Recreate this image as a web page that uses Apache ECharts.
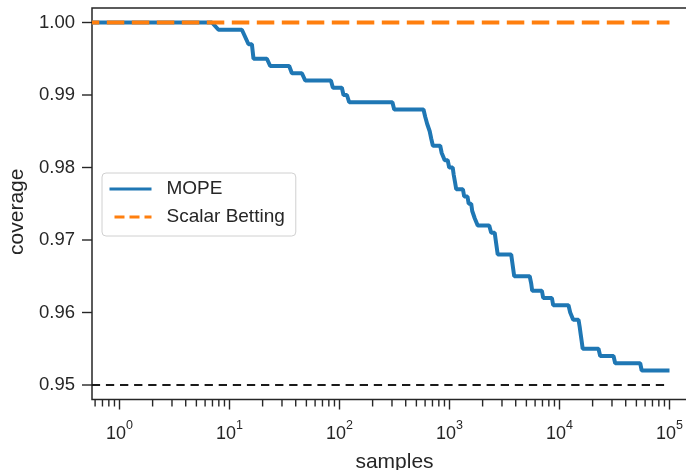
<!DOCTYPE html>
<html>
<head>
<meta charset="utf-8">
<script src="https://cdn.jsdelivr.net/npm/echarts@6/dist/echarts.min.js"></script>
<style>html,body{margin:0;padding:0;background:#fff}#c{width:686px;height:470px}</style>
</head>
<body>
<div id="c"></div>
<script>
// ---- data ----
var X_MIN = 0.56234, X_MAX = 177828;   // axis limits (10^-0.25 .. 10^5.25)
var Y_MIN = 0.948, Y_MAX = 1.002;

var mopeSamples = [0.56, 6.92, 7.94, 12.96, 14.89, 15.98, 16.53, 21.88, 23.44, 34.88, 36.93,
  45.52, 48.78, 83.54, 87.1, 105.1, 108.7, 116.8, 122.5, 302.6, 314.3,
  580.2, 601.3, 627.1, 660.7, 681.8, 706.5, 823.1, 849.3, 882.0, 904.4, 962.9, 993.8,
  1069, 1092, 1122, 1151, 1324, 1360, 1457, 1494, 1575, 1609, 1653, 1695, 1749, 1805,
  2296, 2394, 2576, 2630, 2686, 2743, 3638, 3715, 3794, 3875, 5358, 5529, 5646,
  6918, 7109, 8530, 8764, 12070, 12510, 12910, 13320, 14890, 15260, 15580, 15920, 16250,
  22620, 23440, 30970, 32090, 54150, 55890, 100000];
var mopeCoverage = [1.000, 1.000, 0.999, 0.999, 0.997, 0.997, 0.995, 0.995, 0.994, 0.994, 0.993,
  0.993, 0.992, 0.992, 0.991, 0.991, 0.990, 0.990, 0.989, 0.989, 0.988,
  0.988, 0.987, 0.986, 0.985, 0.984, 0.983, 0.983, 0.982, 0.982, 0.981, 0.981, 0.980,
  0.980, 0.979, 0.978, 0.977, 0.977, 0.976, 0.976, 0.975, 0.975, 0.974, 0.974, 0.973, 0.973, 0.972,
  0.972, 0.971, 0.971, 0.970, 0.969, 0.968, 0.968, 0.967, 0.966, 0.965, 0.965, 0.964, 0.963,
  0.963, 0.962, 0.962, 0.961, 0.961, 0.960, 0.960, 0.959, 0.959, 0.958, 0.957, 0.956, 0.955,
  0.955, 0.954, 0.954, 0.953, 0.953, 0.952, 0.952];

var scalarSamples = [0.56, 100000];
var scalarCoverage = [1.0, 1.0];

var nominalSamples = [0.56, 100000];
var nominalCoverage = [0.95, 0.95];

var yTicks = [0.95, 0.96, 0.97, 0.98, 0.99, 1.00];
var xMajorTicks = [1, 10, 100, 1000, 10000, 100000];
var xMinorTicks = [0.6, 0.7, 0.8, 0.9,
  2, 3, 4, 5, 6, 7, 8, 9,
  20, 30, 40, 50, 60, 70, 80, 90,
  200, 300, 400, 500, 600, 700, 800, 900,
  2000, 3000, 4000, 5000, 6000, 7000, 8000, 9000,
  20000, 30000, 40000, 50000, 60000, 70000, 80000, 90000];

// ---- chart ----
var FONT = 'Liberation Sans, Arial, sans-serif';
var INK = '#262626';
function zip(a, b) { return a.map(function (v, i) { return [v, b[i]]; }); }

function xTickSeries(values, len) {
  return {
    type: 'custom', silent: true, clip: false, z: 5,
    data: values.map(function (v) { return [v, Y_MIN]; }),
    renderItem: function (params, api) {
      var p = api.coord([api.value(0), Y_MIN]);
      return { type: 'line', shape: { x1: p[0], y1: p[1], x2: p[0], y2: p[1] + len },
        style: { stroke: INK, lineWidth: 1.4 } };
    }
  };
}
function yTickSeries(values, len) {
  return {
    type: 'custom', silent: true, clip: false, z: 5,
    data: values.map(function (v) { return [X_MIN, v]; }),
    renderItem: function (params, api) {
      var p = api.coord([X_MIN, api.value(1)]);
      return { type: 'line', shape: { x1: p[0] - len, y1: p[1], x2: p[0], y2: p[1] },
        style: { stroke: INK, lineWidth: 1.4 } };
    }
  };
}

var chart = echarts.init(document.getElementById('c'), null, { renderer: 'canvas' });
chart.setOption({
  animation: false,
  grid: { left: 92, top: 8, width: 605, height: 391.5, outerBoundsMode: 'none', containLabel: false,
    show: true, borderColor: INK, borderWidth: 1.5, backgroundColor: 'transparent' },
  xAxis: {
    type: 'log', logBase: 10, min: X_MIN, max: X_MAX,
    name: 'samples', nameLocation: 'middle', nameGap: 52,
    nameTextStyle: { fontSize: 21, color: INK, fontFamily: FONT, verticalAlign: 'top' },
    axisLine: { show: false }, axisTick: { show: false }, splitLine: { show: false }, minorTick: { show: false },
    axisLabel: {
      margin: 20, color: INK, hideOverlap: false,
      formatter: function (v) {
        var l = Math.log10(v), e = Math.round(l);
        if (Math.abs(l - e) > 1e-6) return '';
        return '{b|10}{s|' + e + '}';
      },
      rich: {
        b: { fontSize: 18, fontFamily: FONT, color: INK, verticalAlign: 'bottom', lineHeight: 24 },
        s: { fontSize: 12.5, fontFamily: FONT, color: INK, verticalAlign: 'top', lineHeight: 24 }
      }
    }
  },
  yAxis: {
    type: 'value', min: Y_MIN, max: Y_MAX,
    name: 'coverage', nameLocation: 'middle', nameGap: 63,
    nameTextStyle: { fontSize: 21, color: INK, fontFamily: FONT, padding: [0, 16, 0, 0] },
    axisLine: { show: false }, splitLine: { show: false }, axisTick: { show: false },
    axisLabel: { customValues: yTicks, margin: 17, fontSize: 18.5, color: INK, fontFamily: FONT,
      formatter: function (v) { return v.toFixed(2); } }
  },
  legend: {
    orient: 'vertical', left: 102, top: 173,
    padding: [6, 11, 9, 6], itemGap: 8, itemWidth: 42, itemHeight: 20,
    backgroundColor: 'rgba(255,255,255,0.8)', borderColor: '#d0d0d0', borderWidth: 1, borderRadius: 4,
    textStyle: { fontSize: 19, color: INK, fontFamily: FONT, padding: [0, 0, 0, 10], lineHeight: 20 },
    itemStyle: { opacity: 0, borderWidth: 0 },
    data: [
      { name: 'MOPE', itemStyle: { opacity: 0, borderWidth: 0 }, lineStyle: { width: 3 } },
      { name: 'Scalar Betting', itemStyle: { opacity: 0, borderWidth: 0 }, lineStyle: { width: 3, type: [10, 5] } }
    ]
  },
  series: [
    { name: 'MOPE', type: 'line', data: zip(mopeSamples, mopeCoverage), showSymbol: false, symbol: 'none',
      lineStyle: { color: '#1f77b4', width: 4 }, itemStyle: { color: '#1f77b4' }, z: 2 },
    { name: 'Scalar Betting', type: 'line', data: zip(scalarSamples, scalarCoverage), showSymbol: false, symbol: 'none',
      lineStyle: { color: '#ff7f0e', width: 4, type: [17.5, 7.5], dashOffset: 10 }, itemStyle: { color: '#ff7f0e' }, z: 3 },
    { name: 'nominal', type: 'line', data: zip(nominalSamples, nominalCoverage), showSymbol: false, symbol: 'none',
      lineStyle: { color: '#1a1a1a', width: 2.2, type: [8.3, 5.8] }, itemStyle: { color: '#1a1a1a' }, z: 4 },
    xTickSeries(xMajorTicks, 10),
    xTickSeries(xMinorTicks, 7),
    yTickSeries(yTicks, 10)
  ]
});
</script>
</body>
</html>
